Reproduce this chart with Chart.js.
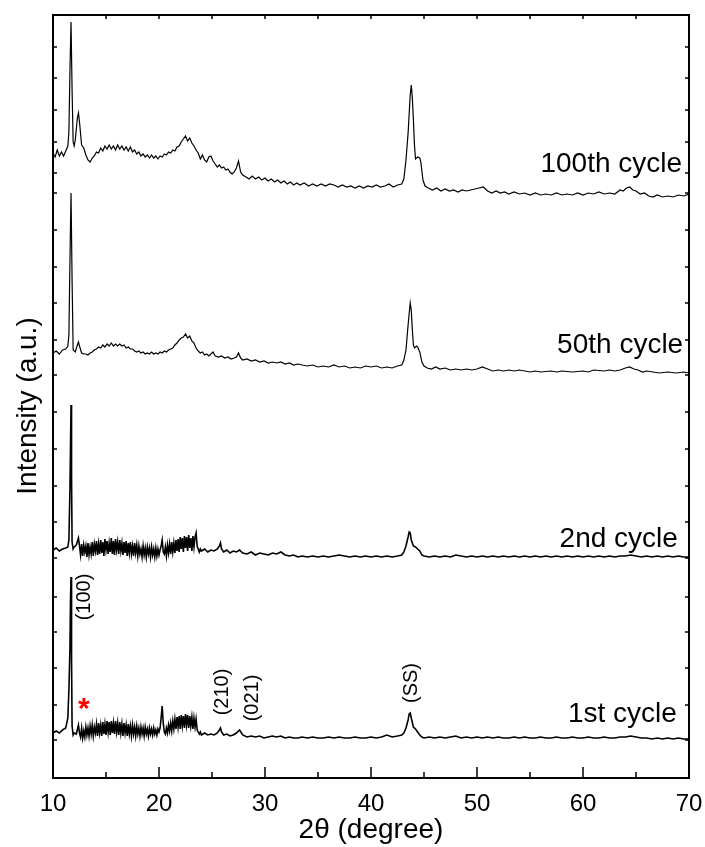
<!DOCTYPE html>
<html>
<head>
<meta charset="utf-8">
<script src="https://cdn.jsdelivr.net/npm/chart.js@4.4.1/dist/chart.umd.min.js"></script>
<style>
  body { margin: 0; background: #fff; }
  #wrap { width: 705px; height: 847px; }
</style>
</head>
<body>
<div id="wrap"><canvas id="xrd-chart"></canvas></div>
<script>
// x axis ticks (2 theta, degree)
const xMajorTicks = [10, 20, 30, 40, 50, 60, 70]
const xMinorTicks = [15, 25, 35, 45, 55, 65]
// y axis tick marks (intensity, a.u.)
const yTickValues = [731, 700, 668, 636, 605, 585, 548, 511, 475, 438, 403, 366, 329, 292, 256, 220, 181, 146, 110, 73, 38]

// labels of the patterns
const cycleLabels = ["100th cycle", "50th cycle", "2nd cycle", "1st cycle"]

// [2theta, intensity]
const cycle100 = [
  [10.0,625],[10.2,621],[10.4,628],[10.6,622],[10.8,626],[11.0,622],[11.2,627],[11.4,632],[11.5,646],[11.6,708],[11.7,756],[11.8,688],[11.9,636],[12.0,632],[12.1,638],[12.3,660],[12.4,665],[12.5,656],[12.7,633],[12.9,630],
  [13.1,623],[13.3,618],[13.5,616],[13.7,620],[13.9,622],[14.1,626],[14.3,625],[14.5,630],[14.7,627],[14.9,632],[15.1,629],[15.3,633],[15.5,629],[15.7,632],[15.9,628],[16.1,633],[16.3,629],[16.5,632],[16.7,628],[16.9,631],
  [17.1,627],[17.3,631],[17.5,626],[17.7,628],[17.9,624],[18.1,626],[18.3,622],[18.5,624],[18.7,621],[18.9,623],[19.1,620],[19.3,623],[19.5,620],[19.7,622],[19.9,619],[20.1,622],[20.3,621],[20.5,624],[20.7,623],[20.9,626],
  [21.1,625],[21.3,628],[21.5,627],[21.7,631],[21.9,632],[22.1,636],[22.3,639],[22.5,642],[22.7,637],[22.9,640],[23.1,635],[23.3,632],[23.5,628],[23.7,625],[23.9,619],[24.1,623],[24.3,618],[24.5,616],[24.7,621],[24.9,622],
  [25.1,617],[25.3,614],[25.5,611],[25.7,613],[25.9,610],[26.1,611],[26.3,608],[26.5,609],[26.7,606],[26.9,604],[27.1,606],[27.3,610],[27.5,617],[27.7,606],[27.9,603],[28.2,601],[28.5,599],[28.8,602],[29.1,599],[29.4,601],
  [29.7,598],[30.0,600],[30.3,597],[30.6,599],[30.9,596],[31.2,598],[31.5,595],[31.8,597],[32.1,594],[32.4,596],[32.7,593],[33.0,595],[33.3,593],[33.7,595],[34.1,592],[34.5,594],[34.9,592],[35.3,594],[35.7,592],[36.1,594],
  [36.5,593],[36.9,591],[37.3,593],[37.7,591],[38.1,592],[38.5,590],[38.9,592],[39.3,590],[39.7,592],[40.1,591],[40.5,593],[40.9,591],[41.3,592],[41.7,594],[42.1,591],[42.5,593],[42.9,594],[43.1,599],[43.3,618],[43.5,645],
  [43.7,683],[43.8,693],[43.9,680],[44.0,658],[44.1,633],[44.2,619],[44.4,621],[44.6,620],[44.7,616],[44.9,598],[45.1,592],[45.4,590],[45.8,588],[46.2,590],[46.6,587],[47.0,589],[47.4,587],[47.8,588],[48.2,586],[48.6,588],
  [49.0,587],[49.4,588],[49.8,589],[50.2,590],[50.6,591],[51.0,587],[51.4,585],[51.8,587],[52.2,585],[52.6,586],[53.0,584],[53.5,586],[54.0,584],[54.5,585],[55.0,583],[55.5,585],[56.0,583],[56.5,584],[57.0,583],[57.5,585],
  [58.0,583],[58.5,584],[59.0,583],[59.5,585],[60.0,583],[60.5,585],[61.0,584],[61.5,586],[62.0,584],[62.5,585],[63.0,584],[63.5,588],[63.8,587],[64.1,590],[64.4,591],[64.7,588],[65.0,587],[65.4,584],[65.8,585],[66.2,582],
  [66.6,581],[67.0,583],[67.5,581],[68.0,582],[68.5,581],[69.0,583],[69.5,582],[70.0,584]
]

const cycle50 = [
  [10.0,425],[10.3,427],[10.6,424],[10.9,428],[11.2,429],[11.4,432],[11.5,443],[11.6,518],[11.7,585],[11.8,498],[11.9,428],[12.1,426],[12.3,433],[12.4,436],[12.5,432],[12.7,425],[12.9,424],[13.1,424],[13.3,423],[13.5,425],
  [13.7,426],[13.9,428],[14.1,429],[14.3,431],[14.5,430],[14.7,433],[14.9,431],[15.1,434],[15.3,432],[15.5,435],[15.7,432],[15.9,434],[16.1,432],[16.3,434],[16.5,432],[16.7,433],[16.9,430],[17.1,431],[17.3,429],[17.5,429],
  [17.7,427],[17.9,426],[18.1,427],[18.3,425],[18.5,426],[18.7,424],[18.9,425],[19.1,424],[19.3,426],[19.5,424],[19.7,425],[19.9,424],[20.1,426],[20.3,425],[20.5,427],[20.7,426],[20.9,428],[21.1,429],[21.3,430],[21.5,433],
  [21.7,435],[21.9,438],[22.1,440],[22.3,441],[22.5,444],[22.7,440],[22.9,442],[23.1,437],[23.3,435],[23.5,430],[23.7,427],[23.9,425],[24.1,426],[24.3,423],[24.5,424],[24.7,422],[24.9,424],[25.1,426],[25.3,422],[25.6,421],
  [25.9,422],[26.2,420],[26.5,421],[26.8,419],[27.1,420],[27.3,421],[27.5,425],[27.7,420],[27.9,418],[28.3,419],[28.7,417],[29.1,418],[29.5,416],[29.9,417],[30.3,415],[30.7,416],[31.1,415],[31.5,416],[31.9,414],[32.3,415],
  [32.7,413],[33.1,414],[33.5,413],[34.0,412],[34.5,413],[35.0,411],[35.5,412],[36.0,411],[36.5,413],[37.0,411],[37.5,412],[38.0,410],[38.5,411],[39.0,410],[39.5,412],[40.0,411],[40.5,412],[41.0,410],[41.5,411],[42.0,410],
  [42.5,412],[42.9,413],[43.1,418],[43.3,428],[43.5,453],[43.7,475],[43.8,468],[43.9,448],[44.0,433],[44.1,430],[44.3,432],[44.4,431],[44.6,426],[44.8,416],[45.0,412],[45.3,410],[45.7,409],[46.1,411],[46.5,409],[47.0,410],
  [47.5,408],[48.0,409],[48.5,408],[49.0,409],[49.5,408],[50.0,409],[50.5,411],[51.0,409],[51.5,407],[52.0,408],[52.5,407],[53.0,408],[53.5,407],[54.0,408],[55.0,406],[55.5,407],[56.0,406],[57.0,407],[57.5,406],[58.0,407],
  [59.0,406],[60.0,407],[60.5,406],[61.0,408],[62.0,407],[62.5,408],[63.0,407],[63.5,408],[64.0,410],[64.4,411],[64.8,409],[65.2,408],[65.6,406],[66.0,407],[66.6,406],[67.2,405],[68.0,406],[68.8,405],[69.5,406],[70.0,405]
]

const cycle2 = [
  [10.0,228],[10.3,230],[10.6,227],[10.9,229],[11.2,230],[11.4,231],[11.5,238],[11.6,290],[11.65,330],[11.7,373],[11.75,300],[11.8,236],[11.9,229],[12.0,231],[12.2,233],[12.4,240],[12.5,232],
  [12.6,223],[12.7,234],[12.8,222],[12.9,233],[13.0,226],[13.1,232],[13.2,221],[13.3,235],[13.4,223],[13.5,231],[13.6,224],[13.7,236],[13.8,222],[13.9,234],[14.0,227],[14.1,237],[14.2,223],[14.3,234],[14.4,224],[14.5,238],
  [14.6,225],[14.7,236],[14.8,222],[14.9,239],[15.0,228],[15.1,237],[15.2,224],[15.3,235],[15.4,226],[15.5,240],[15.6,224],[15.7,237],[15.8,223],[15.9,239],[16.0,228],[16.1,236],[16.2,224],[16.3,238],[16.4,227],[16.5,235],
  [16.6,223],[16.7,236],[16.8,225],[16.9,237],[17.0,222],[17.1,235],[17.2,225],[17.3,236],[17.4,224],[17.5,232],[17.6,222],[17.7,235],[17.8,225],[17.9,233],[18.0,222],[18.1,232],[18.2,224],[18.3,229],[18.4,221],[18.5,232],
  [18.6,223],[18.7,230],[18.8,221],[18.9,231],[19.0,224],[19.1,230],[19.2,221],[19.3,231],[19.4,223],[19.5,229],[19.6,221],[19.7,230],[19.8,222],[19.9,229],[20.0,223],[20.1,228],[20.2,232],[20.3,238],[20.4,226],[20.5,224],
  [20.6,231],[20.7,222],[20.8,233],[20.9,225],[21.0,234],[21.1,224],[21.2,236],[21.3,226],[21.4,235],[21.5,225],[21.6,238],[21.7,227],[21.8,239],[21.9,226],[22.0,241],[22.1,229],[22.2,240],[22.3,226],[22.4,242],[22.5,230],
  [22.6,241],[22.7,227],[22.8,243],[22.9,230],[23.0,240],[23.1,227],[23.2,242],[23.3,231],[23.4,241],[23.5,245],[23.6,232],[23.7,229],[23.8,226],[23.9,229],[24.0,227],[24.3,229],[24.6,226],[24.9,228],[25.2,227],[25.5,229],
  [25.7,232],[25.8,235],[25.9,229],[26.1,226],[26.4,228],[26.7,225],[27.0,227],[27.3,226],[27.6,228],[27.9,225],[28.3,224],[28.7,226],[29.1,223],[29.5,225],[29.9,224],[30.3,223],[30.7,225],[31.1,224],[31.5,226],[31.9,223],
  [32.3,222],[32.7,223],[33.1,221],[33.5,222],[34.0,221],[34.5,222],[35.0,221],[35.5,222],[36.0,221],[36.5,222],[37.0,223],[37.5,222],[38.0,221],[38.5,222],[39.0,221],[39.5,222],[40.0,221],[40.5,222],[41.0,221],[41.5,222],
  [42.0,221],[42.5,222],[42.9,223],[43.1,226],[43.3,232],[43.5,241],[43.6,246],[43.7,245],[43.8,238],[44.0,232],[44.2,231],[44.4,229],[44.6,227],[44.8,223],[45.0,222],[45.5,221],[46.0,222],[46.5,221],[47.0,222],[47.5,221],
  [48.0,223],[48.5,222],[49.0,221],[49.5,222],[50.0,221],[50.5,222],[51.0,221],[51.5,222],[52.0,221],[52.5,222],[53.0,221],[53.5,222],[54.0,221],[54.5,222],[55.0,221],[55.5,222],[56.0,221],[56.5,222],[57.0,221],[57.5,222],
  [58.0,221],[58.5,222],[59.0,221],[59.5,222],[60.0,221],[60.5,222],[61.0,221],[61.5,222],[62.0,221],[62.5,222],[63.0,221],[63.5,222],[64.0,222],[64.5,223],[65.0,222],[65.5,221],[66.0,222],[66.5,221],[67.0,222],[67.5,221],
  [68.0,222],[68.5,221],[69.0,222],[69.5,221],[70.0,221]
]

const cycle1 = [
  [10.0,45],[10.3,47],[10.6,45],[10.9,48],[11.2,50],[11.4,60],[11.5,88],[11.6,130],[11.65,178],[11.7,201],[11.75,120],[11.8,52],[11.9,43],[12.0,45],[12.2,44],[12.4,53],[12.5,45],
  [12.6,41],[12.7,50],[12.8,40],[12.9,47],[13.0,41],[13.1,51],[13.2,43],[13.3,50],[13.4,42],[13.5,52],[13.6,44],[13.7,53],[13.8,42],[13.9,51],[14.0,45],[14.1,54],[14.2,42],[14.3,55],[14.4,45],[14.5,53],
  [14.6,42],[14.7,56],[14.8,44],[14.9,54],[15.0,43],[15.1,57],[15.2,46],[15.3,56],[15.4,43],[15.5,57],[15.6,45],[15.7,55],[15.8,44],[15.9,57],[16.0,46],[16.1,55],[16.2,43],[16.3,56],[16.4,45],[16.5,54],
  [16.6,42],[16.7,55],[16.8,45],[16.9,53],[17.0,42],[17.1,54],[17.2,44],[17.3,52],[17.4,42],[17.5,53],[17.6,44],[17.7,51],[17.8,42],[17.9,52],[18.0,44],[18.1,50],[18.2,42],[18.3,51],[18.4,44],[18.5,50],
  [18.6,42],[18.7,51],[18.8,44],[18.9,49],[19.0,42],[19.1,50],[19.2,44],[19.3,49],[19.4,43],[19.5,50],[19.6,44],[19.7,48],[19.8,43],[19.9,49],[20.0,46],[20.1,50],[20.2,60],[20.3,72],[20.4,55],[20.5,46],
  [20.6,44],[20.7,50],[20.8,45],[20.9,53],[21.0,47],[21.1,55],[21.2,47],[21.3,57],[21.4,49],[21.5,59],[21.6,49],[21.7,61],[21.8,51],[21.9,62],[22.0,49],[22.1,63],[22.2,52],[22.3,62],[22.4,50],[22.5,64],
  [22.6,53],[22.7,63],[22.8,50],[22.9,62],[23.0,52],[23.1,61],[23.2,49],[23.3,60],[23.4,51],[23.5,59],[23.6,48],[23.7,46],[23.8,44],[23.9,46],[24.0,43],[24.3,45],[24.6,43],[24.9,44],[25.2,43],[25.5,45],
  [25.7,48],[25.8,50],[25.9,46],[26.1,43],[26.4,44],[26.7,42],[27.0,43],[27.3,45],[27.6,48],[27.9,43],[28.3,41],[28.7,42],[29.1,41],[29.5,42],[29.9,40],[30.3,41],[30.7,42],[31.1,41],[31.5,42],[31.9,40],
  [32.3,41],[32.7,40],[33.1,40],[33.5,41],[34.0,40],[34.5,41],[35.0,40],[35.5,40],[36.0,41],[36.5,40],[37.0,41],[37.5,40],[38.0,40],[38.5,41],[39.0,40],[39.5,40],[40.0,41],[40.5,40],[41.0,41],[41.5,43],
  [42.0,41],[42.5,42],[42.9,43],[43.1,45],[43.3,50],[43.5,58],[43.6,64],[43.7,65],[43.8,60],[44.0,51],[44.2,49],[44.4,46],[44.6,43],[44.8,41],[45.0,40],[45.5,41],[46.0,40],[46.5,41],[47.0,40],[47.5,41],
  [48.0,42],[48.5,40],[49.0,41],[49.5,40],[50.0,41],[50.5,40],[51.0,41],[51.5,40],[52.0,41],[52.5,40],[53.0,40],[53.5,41],[54.0,40],[54.5,41],[55.0,40],[55.5,40],[56.0,41],[56.5,40],[57.0,40],[57.5,41],
  [58.0,40],[58.5,40],[59.0,41],[59.5,40],[60.0,40],[60.5,41],[61.0,40],[61.5,40],[62.0,41],[62.5,40],[63.0,40],[63.5,41],[64.0,41],[64.5,42],[65.0,41],[65.5,40],[66.0,40],[66.5,39],[67.0,40],[67.5,39],
  [68.0,40],[68.5,39],[69.0,40],[69.5,39],[70.0,39]
]

const FONT = "'Liberation Sans', Arial, sans-serif"

// make {x, y} points for chart.js
function toPoints(pairs) {
  let pts = []
  for (let i = 0; i < pairs.length; i++) {
    pts.push({ x: pairs[i][0], y: pairs[i][1] })
  }
  return pts
}

// ticks, frame and text on top of the plot
const decor = {
  id: 'decor',
  afterDraw(chart) {
    const ctx = chart.ctx
    const a = chart.chartArea
    const x = chart.scales.x
    const y = chart.scales.y
    ctx.save()
    ctx.strokeStyle = '#000'
    ctx.lineWidth = 2
    ctx.strokeRect(a.left, a.top, a.right - a.left, a.bottom - a.top)

    ctx.lineWidth = 1.5
    ctx.beginPath()
    xMajorTicks.forEach(v => {
      const px = x.getPixelForValue(v)
      ctx.moveTo(px, a.bottom); ctx.lineTo(px, a.bottom - 11)
      if (v > 10 && v < 70) { ctx.moveTo(px, a.top); ctx.lineTo(px, a.top + 4) }
    })
    xMinorTicks.forEach(v => {
      const px = x.getPixelForValue(v)
      ctx.moveTo(px, a.bottom); ctx.lineTo(px, a.bottom - 6)
      ctx.moveTo(px, a.top); ctx.lineTo(px, a.top + 4)
    })
    yTickValues.forEach(v => {
      const py = y.getPixelForValue(v)
      ctx.moveTo(a.left, py); ctx.lineTo(a.left + 4, py)
      ctx.moveTo(a.right, py); ctx.lineTo(a.right - 4, py)
    })
    ctx.stroke()

    ctx.fillStyle = '#000'
    // cycle labels, right aligned at the right end of each pattern
    const labelPos = [[69.35, 606], [69.45, 425], [68.95, 231], [68.85, 56]]
    ctx.font = '28px ' + FONT
    ctx.textAlign = 'right'
    ctx.textBaseline = 'alphabetic'
    cycleLabels.forEach((t, i) => {
      ctx.fillText(t, x.getPixelForValue(labelPos[i][0]), y.getPixelForValue(labelPos[i][1]))
    })

    // peak indices, vertical text
    const peaks = [["(100)", 13.5, 181], ["(210)", 26.5, 86], ["(021)", 29.3, 80], ["(SS)", 44.3, 95]]
    peaks.forEach(p => {
      ctx.save()
      ctx.translate(x.getPixelForValue(p[1]), y.getPixelForValue(p[2]))
      ctx.rotate(-Math.PI / 2)
      ctx.font = '20px ' + FONT
      ctx.textAlign = 'center'
      ctx.fillText(p[0], 0, 0)
      ctx.restore()
    })

    // red star
    ctx.fillStyle = '#ff0000'
    ctx.font = 'bold 30px ' + FONT
    ctx.textAlign = 'center'
    ctx.textBaseline = 'middle'
    ctx.fillText('*', x.getPixelForValue(12.9), y.getPixelForValue(74) + 6)

    // axis titles
    ctx.fillStyle = '#000'
    ctx.font = '28px ' + FONT
    ctx.textBaseline = 'alphabetic'
    ctx.fillText('2\u03b8 (degree)', (a.left + a.right) / 2, 838)
    ctx.save()
    ctx.translate(36, 406)
    ctx.rotate(-Math.PI / 2)
    ctx.fillText('Intensity (a.u.)', 0, 0)
    ctx.restore()
    ctx.restore()
  }
}

const series = [cycle100, cycle50, cycle2, cycle1]
const lineWidths = [1.2, 1.2, 1.6, 1.6]
let datasets = []
for (let i = 0; i < series.length; i++) {
  datasets.push({
    label: cycleLabels[i],
    data: toPoints(series[i]),
    borderColor: '#000',
    borderWidth: lineWidths[i],
    pointRadius: 0,
    fill: false,
    tension: 0
  })
}

new Chart(document.getElementById('xrd-chart'), {
  type: 'line',
  data: { datasets: datasets },
  options: {
    responsive: true,
    maintainAspectRatio: false,
    animation: false,
    layout: { padding: { top: 15, right: 16, left: 0, bottom: 0 } },
    plugins: { legend: { display: false }, tooltip: { enabled: false } },
    scales: {
      x: {
        type: 'linear',
        min: 10,
        max: 70,
        afterBuildTicks: s => { s.ticks = xMajorTicks.map(v => ({ value: v })) },
        afterFit: s => { s.height = 69; s.paddingLeft = 0; s.paddingRight = 0 },
        grid: { display: false, drawTicks: false },
        border: { display: false },
        ticks: { color: '#000', font: { family: FONT, size: 24 }, padding: 12, maxRotation: 0, autoSkip: false }
      },
      y: {
        type: 'linear',
        min: 0,
        max: 763,
        afterFit: s => { s.width = 53 },
        grid: { display: false, drawTicks: false },
        border: { display: false },
        ticks: { display: false }
      }
    }
  },
  plugins: [decor]
});
</script>
</body>
</html>
